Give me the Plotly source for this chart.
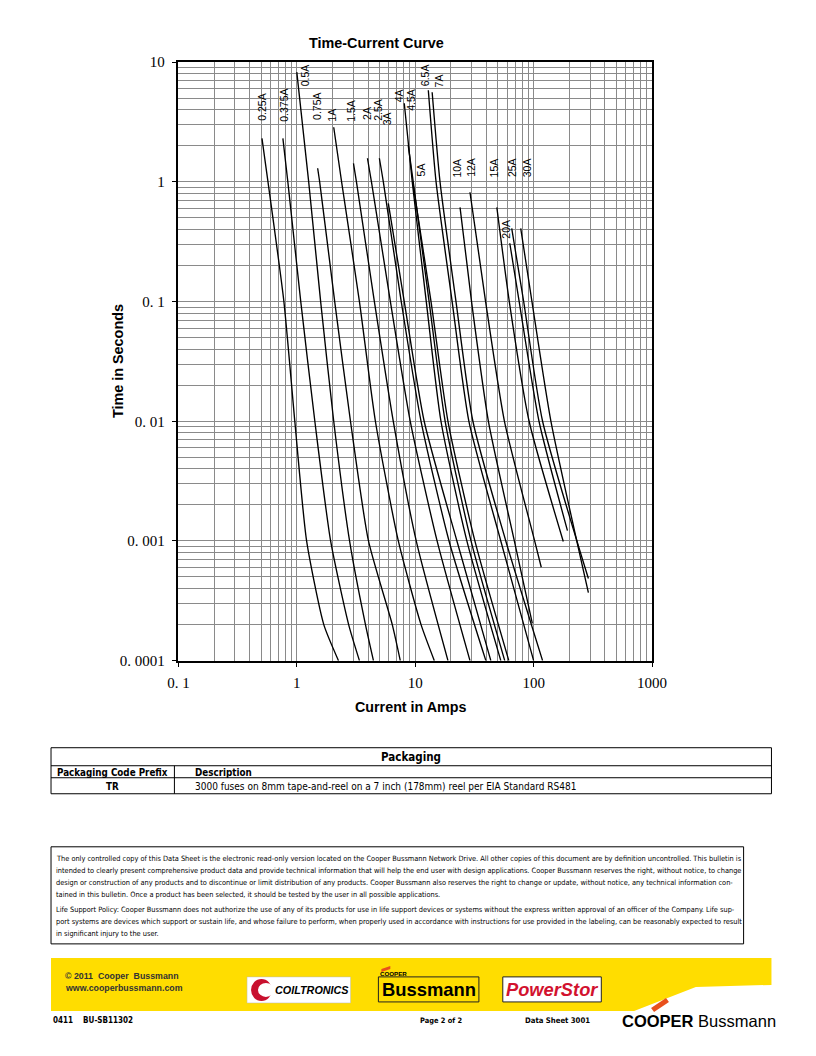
import math
import plotly.graph_objects as go

# The page keeps the browser's default 8px body margin and the captured page is
# slightly reduced (about 0.973 horizontally, 0.984 vertically), so reference pixel
# positions are mapped through that before being turned into paper fractions.
BODY_MARGIN = 8
SX, SY = 0.973, 0.984
W, H = 818, 1052

# ---------------- data ----------------
RATINGS = ["0.25A", "0.375A", "0.5A", "0.75A", "1A", "1.5A", "2A", "2.5A", "3A", "4A",
           "4.5A", "5A", "6.5A", "7A", "10A", "12A", "15A", "20A", "25A", "30A"]

CURRENT_A = [
    [0.508, 0.571, 0.778, 0.962, 1.21, 1.69, 2.25],
    [0.763, 0.840, 1.08, 1.42, 1.93, 2.74, 3.38],
    [1.0, 1.26, 1.59, 2.05, 2.79, 3.80, 4.44],
    [1.50, 1.56, 2.09, 2.84, 4.03, 6.4, 7.48],
    [2.05, 2.39, 3.38, 4.61, 7.20, 11.2, 14.5],
    [3.01, 3.19, 4.52, 6.53, 10.2, 18.9],
    [3.95, 4.27, 6.17, 9.08, 15.3, 29.0],
    [4.98, 5.38, 7.62, 11.2, 19.3, 39.5],
    [5.93, 8.08, 11.9, 22.5, 43.5],
    [8.08, 9.44, 12.4, 16.5, 27.3, 52.8],
    [8.73, 9.62, 13.1, 17.9, 29.6, 57.0],
    [9.62, 13.6, 18.9, 31.9, 61.7],
    [12.9, 15.0, 20.5, 28.4, 52.8, 100.0],
    [13.9, 16.2, 22.1, 30.7, 58.2, 119.0],
    [23.9, 29.9, 41.5, 68.7, 97.5],
    [29.0, 39.3, 56.7, 102.0, 116.0],
    [48.9, 62.3, 91.6, 178.0],
    [62.9, 75.5, 111.0, 193.0],
    [65.3, 82.4, 119.0, 290.0],
    [77.8, 96.8, 140.0, 290.0],
]

TIME_S = [
    [2.31, 1, 0.1, 0.01, 0.001, 0.0002, 0.0001],
    [2.31, 1, 0.1, 0.01, 0.001, 0.0002, 0.0001],
    [8.25, 1, 0.1, 0.01, 0.001, 0.0002, 0.0001],
    [1.30, 1, 0.1, 0.01, 0.001, 0.0002, 0.0001],
    [2.86, 1, 0.1, 0.01, 0.001, 0.0002, 0.0001],
    [1.43, 1, 0.1, 0.01, 0.001, 0.0001],
    [1.575, 1, 0.1, 0.01, 0.001, 0.0001],
    [1.575, 1, 0.1, 0.01, 0.001, 0.0001],
    [0.662, 0.1, 0.01, 0.001, 0.0001],
    [4.54, 1, 0.1, 0.01, 0.001, 0.0001],
    [2.02, 1, 0.1, 0.01, 0.001, 0.0001],
    [0.937, 0.1, 0.01, 0.001, 0.0001],
    [5.83, 1, 0.1, 0.01, 0.001, 0.0001],
    [5.61, 1, 0.1, 0.01, 0.001, 0.0001],
    [0.613, 0.1, 0.01, 0.001, 0.000205],
    [0.819, 0.1, 0.01, 0.001, 0.000603],
    [0.613, 0.1, 0.01, 0.00099],
    [0.307, 0.1, 0.01, 0.00122],
    [0.409, 0.1, 0.01, 0.000485],
    [0.409, 0.1, 0.01, 0.00037],
]

X_TICKS = [0.1, 1, 10, 100, 1000]
X_TICK_TEXT = ["0. 1", "1", "10", "100", "1000"]
Y_TICKS = [0.0001, 0.001, 0.01, 0.1, 1, 10]
Y_TICK_TEXT = ["0. 0001", "0. 001", "0. 01", "0. 1", "1", "10"]

# label placement relative to the top end of each curve (pixels: right, up)
LABEL_SHIFT = [(0, 31), (1, 33), (8, -3), (0, 61), (-2, 12), (-2, 52), (-1, 44), (-1, 48),
               (-1, 83), (-5, 7), (2, 45), (8, 15), (-3, 15), (7, 11), (-3, 39), (1, 25),
               (-3, 39), (-4, 14), (1, 60), (6, 60)]

TABLE_TITLE = "Packaging"
TABLE_HEAD = ["Packaging Code Prefix", "Description"]
TABLE_ROW = ["TR", "3000 fuses on 8mm tape-and-reel on a 7 inch (178mm) reel per EIA Standard RS481"]

DISCLAIMER = [
    "The only controlled copy of this Data Sheet is the electronic read-only version located on the Cooper Bussmann Network Drive. All other copies of this document are by definition uncontrolled. This bulletin is",
    "intended to clearly present comprehensive product data and provide technical information that will help the end user with design applications. Cooper Bussmann reserves the right, without notice, to change",
    "design or construction of any products and to discontinue or limit distribution of any products. Cooper Bussmann also reserves the right to change or update, without notice, any technical information con-",
    "tained in this bulletin. Once a product has been selected, it should be tested by the user in all possible applications.",
    "Life Support Policy: Cooper Bussmann does not authorize the use of any of its products for use in life support devices or systems without the express written approval of an officer of the Company. Life sup-",
    "port systems are devices which support or sustain life, and whose failure to perform, when properly used in accordance with instructions for use provided in the labeling, can be reasonably expected to result",
    "in significant injury to the user.",
]

# ---------------- helpers (reference pixel -> paper fraction) ----------------
def px(x):
    return (x / SX - BODY_MARGIN) / W

def py(y):
    return 1 - (y / SY - BODY_MARGIN) / H

SANS = "Liberation Sans, Arial, sans-serif"
NARROW = "Liberation Sans Narrow, DejaVu Sans Condensed, Arial Narrow, sans-serif"
SERIF = "Liberation Serif, Times New Roman, serif"


def note(x, y, text, size, family=SANS, color="black", xanchor="center", angle=0):
    return dict(x=px(x), y=py(y), xref="paper", yref="paper", text=text, showarrow=False,
                xanchor=xanchor, yanchor="middle", textangle=angle,
                font=dict(family=family, size=size, color=color))


def path(points):
    return "M " + " L ".join("{} {}".format(px(a), py(b)) for a, b in points) + " Z"


fig = go.Figure()

for name, xs, ys in zip(RATINGS, CURRENT_A, TIME_S):
    fig.add_trace(go.Scatter(x=xs, y=ys, mode="lines", name=name,
                             line=dict(color="black", width=1.35, shape="spline", smoothing=0.6),
                             showlegend=False, hoverinfo="name+x+y"))

annotations = []
for name, xs, ys, (dx, dy) in zip(RATINGS, CURRENT_A, TIME_S, LABEL_SHIFT):
    annotations.append(dict(x=math.log10(xs[0]), y=math.log10(ys[0]), xref="x", yref="y",
                            text=name, showarrow=False, textangle=-90,
                            xshift=dx / SX, yshift=dy / SY, xanchor="center", yanchor="middle",
                            font=dict(family=SANS, size=10.5, color="black")))

minor_vals = [m * 10 ** e for e in range(-4, 3) for m in range(2, 10)]

# chart titles
annotations += [
    note(375, 43, "<b>Time-Current Curve</b>", 14.4),
    note(410, 706, "<b>Current in Amps</b>", 14.3),
    note(116, 361, "<b>Time in Seconds</b>", 14.4, angle=-90),
]

shapes = []
line_k = dict(color="black", width=1)
# ----- packaging table -----
shapes.append(dict(type="rect", xref="paper", yref="paper", x0=px(48), x1=px(772),
                   y0=py(747), y1=py(793), line=line_k))
for yy in (765, 777):
    shapes.append(dict(type="line", xref="paper", yref="paper", x0=px(48), x1=px(772),
                       y0=py(yy), y1=py(yy), line=line_k))
shapes.append(dict(type="line", xref="paper", yref="paper", x0=px(172), x1=px(172),
                   y0=py(765), y1=py(793), line=line_k))
annotations += [
    note(410, 756, "<b>" + TABLE_TITLE + "</b>", 11.5, NARROW),
    note(52, 771.5, "<b>" + TABLE_HEAD[0] + "</b>", 9.75, NARROW, xanchor="left"),
    note(191, 771.5, "<b>" + TABLE_HEAD[1] + "</b>", 9.75, NARROW, xanchor="left"),
    note(110, 785.5, "<b>" + TABLE_ROW[0] + "</b>", 9.75, NARROW),
    note(191, 785.5, TABLE_ROW[1], 10, NARROW, xanchor="left"),
]

# ----- disclaimer box -----
shapes.append(dict(type="rect", xref="paper", yref="paper", x0=px(48), x1=px(744),
                   y0=py(846), y1=py(943), line=line_k))
for txt, yy in zip(DISCLAIMER, [858, 870, 882, 894, 909, 921, 933]):
    annotations.append(note(51, yy, txt, 7.35, NARROW, xanchor="left"))

# ----- footer band -----
yellow = "#FFDD00"
shapes.append(dict(type="path", xref="paper", yref="paper",
                   path=path([(48, 957), (772, 957), (772, 984), (696, 986), (634, 1010), (48, 1010)]),
                   fillcolor=yellow, line=dict(width=0), layer="below"))
annotations += [
    note(60, 975, "<b>© 2011  Cooper  Bussmann</b>", 8.8, SANS, "#333333", "left"),
    note(60, 987, "<b>www.cooperbussmann.com</b>", 8.8, SANS, "#333333", "left"),
]
# Coiltronics logo
shapes.append(dict(type="rect", xref="paper", yref="paper", x0=px(245), x1=px(349),
                   y0=py(976), y1=py(1002), fillcolor="white", line=dict(color="#bbbbbb", width=0.5)))
shapes.append(dict(type="circle", xref="paper", yref="paper", x0=px(249), x1=px(270),
                   y0=py(978), y1=py(1000), fillcolor="#C8102E", line=dict(width=0)))
shapes.append(dict(type="circle", xref="paper", yref="paper", x0=px(256), x1=px(272),
                   y0=py(982), y1=py(996), fillcolor="white", line=dict(width=0)))
annotations.append(note(310, 989, "<b><i>COILTRONICS</i></b>", 10.8))
# Bussmann logo
shapes.append(dict(type="rect", xref="paper", yref="paper", x0=px(377), x1=px(478),
                   y0=py(976), y1=py(1001), fillcolor=yellow, line=dict(color="#222222", width=1)))
shapes.append(dict(type="path", xref="paper", yref="paper",
                   path=path([(380, 968), (389, 965), (389, 968), (380, 971)]),
                   fillcolor="#E8501C", line=dict(width=0)))
annotations += [
    note(377, 972.5, "<b>COOPER</b>", 6.2, xanchor="left"),
    note(428, 989, "<b>Bussmann</b>", 18.4),
]
# PowerStor logo
shapes.append(dict(type="rect", xref="paper", yref="paper", x0=px(502), x1=px(601),
                   y0=py(976), y1=py(1001), fillcolor="white", line=dict(color="#222222", width=1)))
annotations.append(note(551, 989, "<b><i>PowerStor</i></b>", 18.3, color="#D2122E"))
# bottom line
annotations += [
    note(48, 1020, "<b>0411    BU-SB11302</b>", 8, NARROW, xanchor="left"),
    note(440, 1020, "<b>Page 2 of 2</b>", 7.4, NARROW),
    note(557, 1020, "<b>Data Sheet 3001</b>", 7.7, NARROW),
    note(620, 1020, "<b>COOPER</b> Bussmann", 16.5, xanchor="left"),
]
shapes.append(dict(type="path", xref="paper", yref="paper",
                   path=path([(651, 1007), (666, 997), (669, 1001), (654, 1011)]),
                   fillcolor="#E8501C", line=dict(width=0)))

grid_col = "#8a8a8a"
axis_common = dict(type="log", showgrid=True, gridcolor=grid_col, gridwidth=1,
                   tickfont=dict(family=SERIF, size=15, color="black"),
                   ticks="outside", ticklen=5, tickcolor="black", tickwidth=1.2,
                   minor=dict(tickvals=minor_vals, showgrid=True, gridcolor=grid_col,
                              gridwidth=1, ticks=""),
                   showline=True, linecolor="black", linewidth=1.5, mirror=True, zeroline=False)

fig.update_layout(
    width=W, height=H, margin=dict(l=0, r=0, t=0, b=0), autosize=False,
    paper_bgcolor="white", plot_bgcolor="white", showlegend=False,
    xaxis=dict(range=[-1, 3], domain=[px(176), px(652)],
               tickvals=X_TICKS, ticktext=X_TICK_TEXT, ticklabelstandoff=3, **axis_common),
    yaxis=dict(range=[-4, 1], domain=[py(660), py(62)],
               tickvals=Y_TICKS, ticktext=Y_TICK_TEXT, ticklabelstandoff=4, **axis_common),
    annotations=annotations,
    shapes=shapes,
)

fig.write_html("out.html")
